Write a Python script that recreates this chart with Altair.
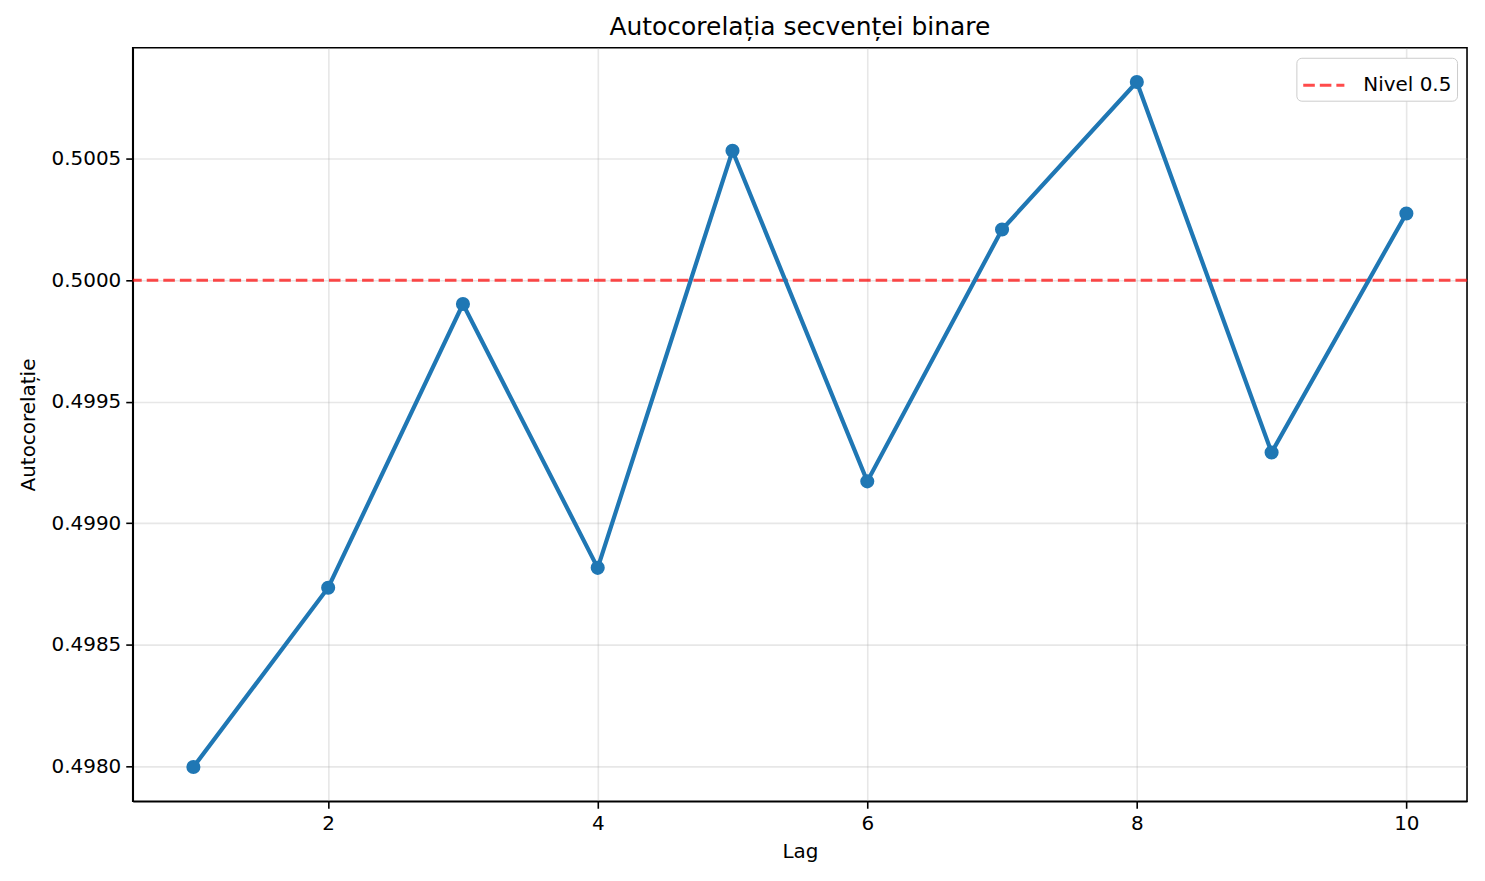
import altair as alt
import pandas as pd

lags = [1, 2, 3, 4, 5, 6, 7, 8, 9, 10]
autocorr = [0.497996, 0.498734, 0.499902, 0.498816, 0.500533,
            0.499172, 0.500209, 0.500816, 0.499291, 0.500275]
level = [0.5]
level_label = ["Nivel 0.5"]
x_ticks = [2, 4, 6, 8, 10]
y_ticks = [0.4980, 0.4985, 0.4990, 0.4995, 0.5000, 0.5005]

df = pd.DataFrame({"Lag": lags, "Autocorelatie": autocorr})
ref = pd.DataFrame({"y": level, "label": level_label})

FONT = "DejaVu Sans"
xscale = alt.Scale(domain=[0.55, 10.45], nice=False, zero=False)
yscale = alt.Scale(domain=[0.497855, 0.500957], nice=False, zero=False)

xaxis = alt.Axis(title="Lag", values=x_ticks, format="d", grid=True,
                 gridColor="#b0b0b0", gridOpacity=0.3, gridWidth=1.6,
                 domainColor="black", domainWidth=1.6, tickColor="black",
                 tickWidth=1.6, tickSize=7, labelFontSize=20, labelFont=FONT,
                 labelColor="black", labelPadding=5, titleFontSize=20,
                 titleFont=FONT, titleFontWeight="normal", titleColor="black",
                 titlePadding=8)
yaxis = alt.Axis(title="Autocorelație", values=y_ticks, format=".4f", grid=True,
                 gridColor="#b0b0b0", gridOpacity=0.3, gridWidth=1.6,
                 domainColor="black", domainWidth=1.6, tickColor="black",
                 tickWidth=1.6, tickSize=7, labelFontSize=20, labelFont=FONT,
                 labelColor="black", labelPadding=5, titleFontSize=20,
                 titleFont=FONT, titleFontWeight="normal", titleColor="black",
                 titlePadding=12)

base = alt.Chart(df)
line = base.mark_line(color="#1f77b4", strokeWidth=4.2).encode(
    x=alt.X("Lag:Q", scale=xscale, axis=xaxis),
    y=alt.Y("Autocorelatie:Q", scale=yscale, axis=yaxis),
)
pts = base.mark_point(filled=True, color="#1f77b4", size=200, opacity=1, shape="circle").encode(
    x=alt.X("Lag:Q", scale=xscale),
    y=alt.Y("Autocorelatie:Q", scale=yscale),
)
rule = alt.Chart(ref).mark_rule(strokeWidth=3.1, strokeDash=[11.6, 5], opacity=0.7).encode(
    y=alt.Y("y:Q", scale=yscale),
    color=alt.Color("label:N", scale=alt.Scale(domain=level_label, range=["#ff0000"]),
                    legend=alt.Legend(title=None, orient="top-right", offset=10,
                                      symbolType="stroke", symbolDash=[11.6, 5],
                                      symbolStrokeWidth=3.1, symbolSize=1700,
                                      symbolOpacity=0.7,
                                      labelFontSize=20, labelFont=FONT,
                                      labelColor="black", fillColor="white",
                                      strokeColor="#cccccc", cornerRadius=5,
                                      padding=5, labelOffset=17)),
)

chart = alt.layer(rule, line, pts).properties(
    width=1337, height=755,
    title=alt.Title("Autocorelația secvenței binare", fontSize=25, font=FONT,
                    fontWeight="normal", color="black", offset=8),
    autosize=alt.AutoSizeParams(type="none"),
    padding={"left": 125, "top": 39, "right": 10, "bottom": 70},
).configure_view(stroke="black", strokeWidth=1.6)

chart.save("out.html", embed_options={"renderer": "svg", "actions": False})
